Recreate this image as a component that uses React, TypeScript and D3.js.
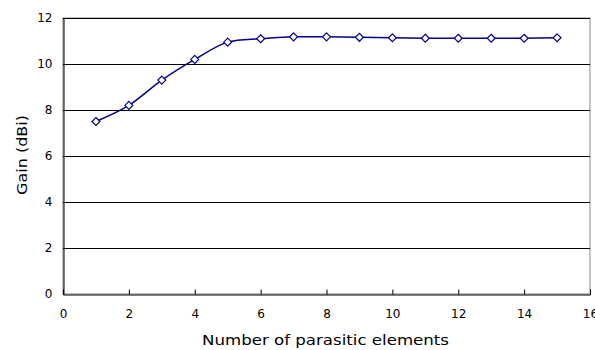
import { useEffect, useRef } from "react";
import * as d3 from "d3";

const elements = [1, 2, 3, 4, 5, 6, 7, 8, 9, 10, 11, 12, 13, 14, 15];
const gain = [7.5, 8.2, 9.3, 10.2, 10.95, 11.1, 11.18, 11.18, 11.16, 11.14, 11.12, 11.12, 11.12, 11.12, 11.14];
const xTicks = [0, 2, 4, 6, 8, 10, 12, 14, 16];
const yTicks = [0, 2, 4, 6, 8, 10, 12];

const W = 595;
const H = 350;
const margin = { top: 18, right: 5, bottom: 56, left: 63 };
const FONT = "'DejaVu Sans', Arial, sans-serif";
const LINE = "#00008b";

export default function App() {
  const svgRef = useRef<SVGSVGElement>(null);

  useEffect(() => {
    if (!svgRef.current) return;
    const svg = d3.select(svgRef.current);
    svg.selectAll("*").remove();

    const innerW = W - margin.left - margin.right;
    const innerH = H - margin.top - margin.bottom;

    const x = d3.scaleLinear().domain([0, 16]).range([0, innerW]);
    const y = d3.scaleLinear().domain([0, 12]).range([innerH, 0]);

    const g = svg.append("g").attr("transform", `translate(${margin.left},${margin.top})`);

    // plot border (gray top/right)
    g.append("rect")
      .attr("x", 0).attr("y", 0)
      .attr("width", innerW).attr("height", innerH)
      .attr("fill", "#fff")
      .attr("stroke", "#888")
      .attr("stroke-width", 1);

    // horizontal grid
    g.selectAll("line.grid")
      .data(yTicks.filter((t) => t > 0))
      .join("line")
      .attr("class", "grid")
      .attr("x1", 0).attr("x2", innerW)
      .attr("y1", (d) => Math.round(y(d)) + 0.5)
      .attr("y2", (d) => Math.round(y(d)) + 0.5)
      .attr("stroke", "#000")
      .attr("stroke-width", 1);

    // Y axis
    g.append("g")
      .attr("transform", "translate(0.5,0)")
      .call(d3.axisLeft(y).tickValues(yTicks).tickSize(0).tickPadding(11))
      .call((a) => a.select(".domain").attr("stroke", "#000"))
      .call((a) => a.selectAll("text")
        .attr("font-family", FONT)
        .attr("font-size", 12)
        .attr("fill", "#000"));

    // X axis, ticks pointing inward
    g.append("g")
      .attr("transform", `translate(0,${innerH + 0.5})`)
      .call(d3.axisBottom(x).tickValues(xTicks).tickSize(-5).tickPadding(15))
      .call((a) => a.select(".domain").attr("stroke", "#000"))
      .call((a) => a.selectAll("line").attr("stroke", "#000"))
      .call((a) => a.selectAll("text")
        .attr("font-family", FONT)
        .attr("font-size", 12)
        .attr("fill", "#000"));

    // line
    const pts = elements.map((e, i) => ({ e, v: gain[i] }));
    const line = d3.line<{ e: number; v: number }>()
      .x((d) => x(d.e))
      .y((d) => y(d.v))
      .curve(d3.curveCatmullRom.alpha(0.5));

    g.append("path")
      .datum(pts)
      .attr("d", line)
      .attr("fill", "none")
      .attr("stroke", LINE)
      .attr("stroke-width", 1.5);

    // diamond markers
    const sym = d3.symbol().type(d3.symbolDiamond2).size(40);
    g.selectAll("path.marker")
      .data(pts)
      .join("path")
      .attr("class", "marker")
      .attr("transform", (d) => `translate(${x(d.e)},${y(d.v)})`)
      .attr("d", sym)
      .attr("fill", "#fff")
      .attr("stroke", LINE)
      .attr("stroke-width", 1.2);

    // axis titles
    svg.append("text")
      .attr("x", 202)
      .attr("y", 345)
      .attr("textLength", 247)
      .attr("lengthAdjust", "spacingAndGlyphs")
      .attr("font-family", FONT)
      .attr("font-size", 14.5)
      .attr("fill", "#000")
      .text("Number of parasitic elements");

    svg.append("text")
      .attr("transform", `translate(27,195) rotate(-90)`)
      .attr("textLength", 80)
      .attr("lengthAdjust", "spacingAndGlyphs")
      .attr("font-family", FONT)
      .attr("font-size", 14.5)
      .attr("fill", "#000")
      .text("Gain (dBi)");
  }, []);

  return (
    <svg
      ref={svgRef}
      width={W}
      height={H}
      style={{ position: "absolute", left: 0, top: 0, background: "#fff" }}
    />
  );
}
